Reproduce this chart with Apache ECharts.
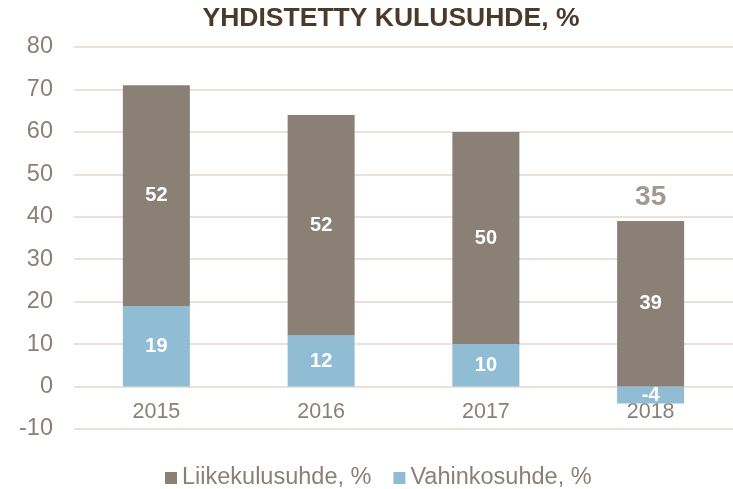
<!DOCTYPE html>
<html>
<head>
<meta charset="utf-8">
<script src="https://cdn.jsdelivr.net/npm/echarts@6/dist/echarts.min.js"></script>
<style>
  html, body { margin: 0; padding: 0; background: #ffffff; }
  #chart { width: 733px; height: 489px; }
</style>
</head>
<body>
<div id="chart"></div>
<script>
// values
const years = ['2015', '2016', '2017', '2018'];
const vahinkosuhde = [19, 12, 10, -4];
const liikekulusuhde = [52, 52, 50, 39];
const combinedRatio = [null, null, null, 35]; // only shown for 2018
const yTicks = { min: -10, max: 80, interval: 10 };

const FONT = '"Liberation Sans", Arial, sans-serif';
const BROWN = '#8b8076';
const BLUE = '#91bdd4';
const TEXT_GREY = '#8b8078';
const GRID_LINE = '#e9e2dc';

const GRID = { left: 74, right: 0, top: 47, bottom: 60 };
const CHART_H = 489;

// top of the positive stack, used to anchor the combined label
const stackTop = years.map((_, i) =>
  Math.max(0, vahinkosuhde[i]) + Math.max(0, liikekulusuhde[i]));

// category labels sit under the zero line, not under the -10 line
const plotH = CHART_H - GRID.top - GRID.bottom;
const zeroOffset = (0 - yTicks.min) / (yTicks.max - yTicks.min) * plotH;

const chart = echarts.init(document.getElementById('chart'));

const barLabel = {
  show: true,
  position: 'inside',
  color: '#ffffff',
  fontFamily: FONT,
  fontWeight: 'bold',
  fontSize: 20
};

chart.setOption({
  animation: false,
  backgroundColor: '#ffffff',
  title: {
    text: 'YHDISTETTY KULUSUHDE, %',
    left: 386,
    textAlign: 'center',
    top: 0,
    textStyle: {
      color: '#4b3a2a',
      fontFamily: FONT,
      fontWeight: 'bold',
      fontSize: 26.5
    }
  },
  legend: {
    data: ['Liikekulusuhde, %', 'Vahinkosuhde, %'],
    bottom: -6,
    left: 160,
    itemWidth: 12,
    itemHeight: 12,
    itemGap: 22,
    icon: 'rect',
    textStyle: { color: TEXT_GREY, fontFamily: FONT, fontSize: 23.5 }
  },
  grid: Object.assign({ containLabel: false }, GRID),
  xAxis: {
    type: 'category',
    data: years,
    offset: -zeroOffset,
    axisLine: { show: false },
    axisTick: { show: false },
    axisLabel: {
      color: TEXT_GREY,
      fontFamily: FONT,
      fontSize: 21.5,
      margin: 15
    }
  },
  yAxis: {
    type: 'value',
    min: yTicks.min,
    max: yTicks.max,
    interval: yTicks.interval,
    axisLine: { show: false },
    axisTick: { show: false },
    axisLabel: {
      color: TEXT_GREY,
      fontFamily: FONT,
      fontSize: 23.5,
      margin: 21
    },
    splitLine: { lineStyle: { color: GRID_LINE, width: 2 } }
  },
  series: [
    {
      name: 'Vahinkosuhde, %',
      type: 'bar',
      stack: 'total',
      barWidth: 67,
      data: vahinkosuhde,
      itemStyle: { color: BLUE },
      label: barLabel
    },
    {
      name: 'Liikekulusuhde, %',
      type: 'bar',
      stack: 'total',
      barWidth: 67,
      data: liikekulusuhde,
      itemStyle: { color: BROWN },
      label: barLabel
    },
    {
      name: 'combined',
      type: 'scatter',
      symbolSize: 0,
      silent: true,
      data: years.map((_, i) => combinedRatio[i] == null ? null : stackTop[i]),
      label: {
        show: true,
        position: 'top',
        distance: 10,
        formatter: (p) => String(combinedRatio[p.dataIndex]),
        color: BROWN,
        fontFamily: FONT,
        fontWeight: 'bold',
        fontSize: 28
      }
    }
  ]
});
</script>
</body>
</html>
